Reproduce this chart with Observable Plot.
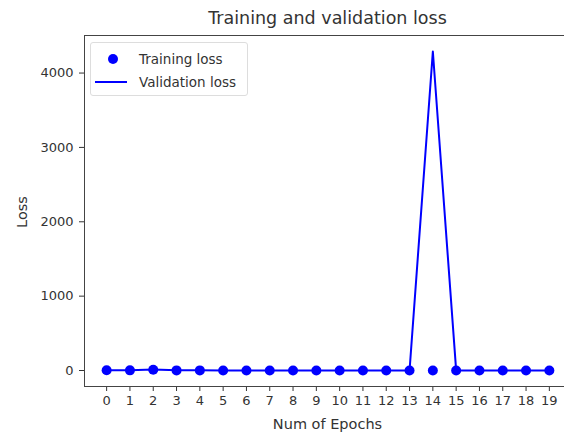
<!DOCTYPE html>
<html><head><meta charset="utf-8">
<script src="https://cdn.jsdelivr.net/npm/d3@7"></script>
<script src="https://cdn.jsdelivr.net/npm/@observablehq/plot@0.6"></script>
<style>
body{margin:0;background:#fff;}
#wrap{position:relative;width:564px;height:433px;font-family:"DejaVu Sans",sans-serif;color:#333;overflow:hidden;}
#wrap svg{position:absolute;left:0;top:0;}
.lbl{position:absolute;white-space:nowrap;line-height:1;}
#title{left:84px;width:487px;top:10px;text-align:center;font-size:17.5px;}
#xlabel{left:84px;width:487px;top:417px;text-align:center;font-size:14.5px;}
#ylabel{left:22px;top:212px;font-size:14.5px;transform:translate(-50%,-50%) rotate(-90deg);}
#legend{position:absolute;left:90px;top:42px;width:156px;height:52px;border:1px solid #ddd;border-radius:3px;background:rgba(255,255,255,0.8);font-size:13.5px;}
.row{position:absolute;left:4px;height:20px;display:flex;align-items:center;}
.dot{width:10px;height:10px;border-radius:50%;background:#0000ff;margin-left:13px;margin-right:21px;}
.line{width:32px;height:2px;background:#0000ff;margin-right:12px;}
</style></head><body>
<div id="wrap">
  <div id="title" class="lbl">Training and validation loss</div>
  <div id="xlabel" class="lbl">Num of Epochs</div>
  <div id="ylabel" class="lbl">Loss</div>
  <div id="legend">
    <div class="row" style="top:6px"><div class="dot"></div><span>Training loss</span></div>
    <div class="row" style="top:29px"><div class="line"></div><span>Validation loss</span></div>
  </div>
</div>
<script>
const epochs = [0,1,2,3,4,5,6,7,8,9,10,11,12,13,14,15,16,17,18,19];
const trainingLoss = [4.1, 2.3, 9.6, 1.8, 1.5, 1.3, 1.2, 1.1, 1.0, 0.9, 0.9, 0.8, 0.8, 0.7, 0.7, 0.7, 0.6, 0.6, 0.6, 0.6];
const validationLoss = [3.2, 2.5, 14.0, 2.1, 1.9, 1.7, 1.6, 1.5, 1.4, 1.4, 1.3, 1.3, 1.2, 1.2, 4290, 1.1, 1.1, 1.0, 1.0, 1.0];
const yTicks = [0, 1000, 2000, 3000, 4000];

const train = epochs.map((e, i) => ({epoch: e, loss: trainingLoss[i]}));
const valid = epochs.map((e, i) => ({epoch: e, loss: validationLoss[i]}));

const chart = Plot.plot({
  width: 564,
  height: 433,
  marginLeft: 84,
  marginTop: 35,
  marginBottom: 47,
  marginRight: 0,
  style: {fontFamily: "DejaVu Sans", fontSize: "13px", color: "#333", background: "transparent"},
  x: {type: "linear", domain: [-0.95, 19.65], ticks: epochs, tickFormat: d => String(d), tickSize: 5, tickPadding: 4, label: null},
  y: {domain: [-215, 4505], ticks: yTicks, tickFormat: d => String(d), tickSize: 5, tickPadding: 6, label: null},
  marks: [
    Plot.frame({anchor: "left", stroke: "#444"}),
    Plot.frame({anchor: "top", stroke: "#444"}),
    Plot.frame({anchor: "bottom", stroke: "#444"}),
    Plot.line(valid, {x: "epoch", y: "loss", stroke: "#0000ff", strokeWidth: 2}),
    Plot.dot(train, {x: "epoch", y: "loss", r: 5, fill: "#0000ff", stroke: "none"})
  ]
});
document.getElementById("wrap").prepend(chart);
</script>
</body></html>
